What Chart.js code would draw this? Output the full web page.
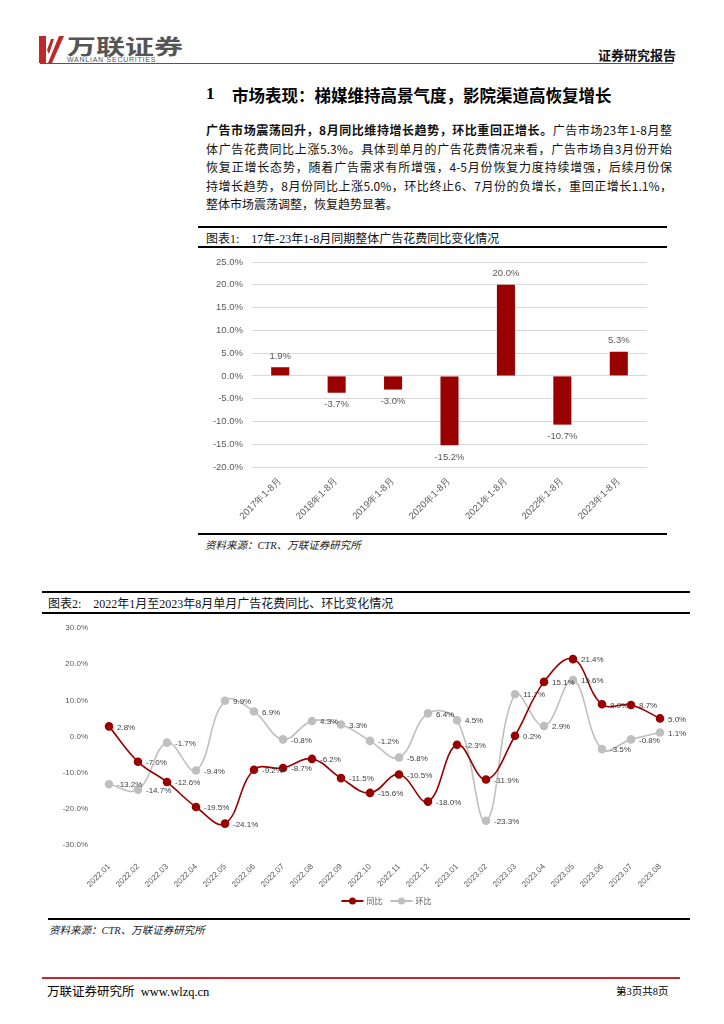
<!DOCTYPE html>
<html><head><meta charset="utf-8">
<script src="https://cdn.jsdelivr.net/npm/chart.js@4.4.0/dist/chart.umd.min.js"></script>
<style>
body{margin:0;width:724px;height:1024px;background:#fff;position:relative;overflow:hidden;font-family:"Noto Sans CJK SC","Noto Sans",sans-serif;color:#000}
.a{position:absolute;white-space:nowrap}
.rule{position:absolute;background:#000}
.para{position:absolute;left:206px;width:466px;font-size:12px;line-height:18.5px;color:#111}
.para div{text-align:justify;text-align-last:justify;height:18.5px;white-space:nowrap;overflow:visible}
.para div.last{text-align-last:left}
.cap{font-family:"Liberation Serif","Noto Sans CJK SC",serif;font-size:12px;color:#111}
.src{font-family:"Liberation Serif","Noto Sans CJK SC",serif;font-style:italic;font-size:10.5px;color:#222}
canvas{position:absolute}
</style></head>
<body>
<!-- header -->
<svg class="a" style="left:39px;top:36px" width="26" height="27" viewBox="0 0 26 27">
  <polygon points="0,0 7,0 7,27 0,27" fill="#c0282d"/>
  <polygon points="9,27 13,27 25,0 20,0" fill="#c0282d"/>
  <polygon points="8,14 12,3 15,3 10,18" fill="#c0282d"/>
</svg>
<div class="a" style="left:67px;top:35px;font-size:21px;line-height:21px;font-weight:700;color:#555;transform:scaleX(1.38);transform-origin:0 0">万联证券</div>
<div class="a" style="left:67px;top:56px;font-size:7px;line-height:7px;color:#555;letter-spacing:0.75px;font-family:'Liberation Sans',sans-serif">WANLIAN SECURITIES</div>
<div class="a" style="left:598px;top:45px;font-size:13px;font-weight:700;color:#111">证券研究报告</div>
<div class="rule" style="left:40px;top:63px;width:633px;height:1px;background:#c0282d"></div>

<!-- section title -->
<div class="a" style="left:206px;top:84px;font-size:17px;font-weight:700;font-family:'Liberation Serif',serif">1</div>
<div class="a" style="left:232px;top:83px;font-size:16.5px;font-weight:700">市场表现：梯媒维持高景气度，影院渠道高恢复增长</div>

<!-- paragraph -->
<div class="para" style="top:121px">
  <div><b>广告市场震荡回升，8月同比维持增长趋势，环比重回正增长。</b>广告市场23年1-8月整</div>
  <div>体广告花费同比上涨5.3%。具体到单月的广告花费情况来看，广告市场自3月份开始</div>
  <div>恢复正增长态势，随着广告需求有所增强，4-5月份恢复力度持续增强，后续月份保</div>
  <div>持增长趋势，8月份同比上涨5.0%，环比终止6、7月份的负增长，重回正增长1.1%，</div>
  <div class="last">整体市场震荡调整，恢复趋势显著。</div>
</div>

<!-- chart 1 caption -->
<div class="rule" style="left:198px;top:226px;width:469px;height:2px"></div>
<div class="a cap" style="left:206px;top:229px">图表1:&nbsp;&nbsp;&nbsp;&nbsp;17年-23年1-8月同期整体广告花费同比变化情况</div>
<div class="rule" style="left:198px;top:246px;width:469px;height:2px"></div>
<canvas id="c1" width="470" height="280" style="left:198px;top:250px"></canvas>
<div class="rule" style="left:198px;top:533px;width:469px;height:2px"></div>
<div class="a src" style="left:205px;top:537px">资料来源：CTR、万联证券研究所</div>

<!-- chart 2 caption -->
<div class="rule" style="left:42px;top:591px;width:648px;height:2px"></div>
<div class="a cap" style="left:48px;top:594px">图表2:&nbsp;&nbsp;&nbsp;&nbsp;2022年1月至2023年8月单月广告花费同比、环比变化情况</div>
<div class="rule" style="left:42px;top:612px;width:648px;height:2px"></div>
<canvas id="c2" width="658" height="292" style="left:42px;top:620px"></canvas>
<div class="rule" style="left:48px;top:918px;width:642px;height:2px"></div>
<div class="a src" style="left:49px;top:922px">资料来源：CTR、万联证券研究所</div>

<!-- footer -->
<div class="rule" style="left:42px;top:977px;width:638px;height:2px;background:#c0282d"></div>
<div class="a" style="left:47px;top:981px;font-size:12.5px;font-family:'Liberation Serif','Noto Sans CJK SC',serif">万联证券研究所&nbsp;&nbsp;www.wlzq.cn</div>
<div class="a" style="left:616px;top:983px;font-size:10.5px;font-family:'Liberation Serif','Noto Sans CJK SC',serif">第3页共8页</div>

<script>
// ---- Chart 1 data ----
const barCategories = ['2017年1-8月','2018年1-8月','2019年1-8月','2020年1-8月','2021年1-8月','2022年1-8月','2023年1-8月'];
const barValues = [1.9, -3.7, -3.0, -15.2, 20.0, -10.7, 5.3];
const barYTicks = [-20, -15, -10, -5, 0, 5, 10, 15, 20, 25];

// ---- Chart 2 data ----
const months = ['2022.01','2022.02','2022.03','2022.04','2022.05','2022.06','2022.07','2022.08','2022.09','2022.10','2022.11','2022.12',
                '2023.01','2023.02','2023.03','2023.04','2023.05','2023.06','2023.07','2023.08'];
const yoyValues = [2.8, -7.0, -12.6, -19.5, -24.1, -9.2, -8.7, -6.2, -11.5, -15.6, -10.5, -18.0, -2.3, -11.9, 0.2, 15.1, 21.4, 8.9, 8.7, 5.0];
const momValues = [-13.2, -14.7, -1.7, -9.4, 9.9, 6.9, -0.8, 4.3, 3.3, -1.2, -5.8, 6.4, 4.5, -23.3, 11.7, 2.9, 15.6, -3.5, -0.8, 1.1];
const lineYTicks = [-30, -20, -10, 0, 10, 20, 30];
const seriesNames = ['同比', '环比'];

const RED = '#990000', GRAY = '#bfbfbf';
const FONT = "'Liberation Sans', Arial, sans-serif";
const pct = v => v.toFixed(1) + '%';

// bar value labels
const barLabels = {
  id: 'barLabels',
  afterDatasetsDraw(chart) {
    const ctx = chart.ctx;
    const meta = chart.getDatasetMeta(0);
    ctx.save();
    ctx.font = "9.5px " + FONT;
    ctx.fillStyle = '#595959';
    ctx.textAlign = 'center';
    ctx.textBaseline = 'middle';
    meta.data.forEach((bar, i) => {
      const v = barValues[i];
      const y = v >= 0 ? bar.y - 11 : bar.y + 12;
      ctx.fillText(pct(v), bar.x, y);
    });
    ctx.restore();
  }
};

new Chart(document.getElementById('c1'), {
  type: 'bar',
  data: { labels: barCategories, datasets: [{ data: barValues, backgroundColor: RED, categoryPercentage: 1, barPercentage: 0.32 }] },
  options: {
    responsive: false, animation: false, devicePixelRatio: 1,
    layout: { padding: { top: 12, right: 21, left: 0, bottom: 0 } },
    plugins: { legend: { display: false }, tooltip: { enabled: false } },
    scales: {
      x: {
        grid: { display: false, drawTicks: false }, border: { display: false },
        ticks: { font: { family: FONT, size: 9.5 }, color: '#595959', maxRotation: 45, minRotation: 45, padding: 8, autoSkip: false },
        afterFit(s) { s.height = 63; s.paddingLeft = 0; s.paddingRight = 0; }
      },
      y: {
        min: -20, max: 25,
        afterBuildTicks(s) { s.ticks = barYTicks.map(v => ({ value: v })); },
        grid: { color: '#d9d9d9', lineWidth: 1, drawTicks: false }, border: { display: false },
        ticks: { font: { family: FONT, size: 9.5 }, color: '#595959', padding: 9, callback: v => pct(v) },
        afterFit(s) { s.width = 54; s.paddingTop = 0; s.paddingBottom = 0; }
      }
    }
  },
  plugins: [barLabels]
});

// line value labels
const lineLabels = {
  id: 'lineLabels',
  afterDatasetsDraw(chart) {
    const ctx = chart.ctx;
    ctx.save();
    ctx.font = "8px " + FONT;
    ctx.fillStyle = '#404040';
    ctx.textAlign = 'left';
    ctx.textBaseline = 'middle';
    [yoyValues, momValues].forEach((vals, d) => {
      chart.getDatasetMeta(d).data.forEach((pt, i) => {
        ctx.fillText(pct(vals[i]), pt.x + 8, pt.y + 1);
      });
    });
    ctx.restore();
  }
};

// custom legend (line + dot marker)
const lineLegend = {
  id: 'lineLegend',
  afterDraw(chart) {
    const ctx = chart.ctx;
    const cy = 281;
    const colors = [RED, GRAY];
    ctx.save();
    ctx.font = "8px 'Noto Sans CJK SC', sans-serif";
    ctx.textBaseline = 'middle';
    ctx.textAlign = 'left';
    const itemW = seriesNames.map(n => 22 + 3 + ctx.measureText(n).width);
    const gap = 8;
    const total = itemW[0] + itemW[1] + gap;
    let x = (chart.chartArea.left + chart.chartArea.right) / 2 - total / 2 + 2;
    seriesNames.forEach((name, i) => {
      ctx.strokeStyle = colors[i]; ctx.lineWidth = 2;
      ctx.beginPath(); ctx.moveTo(x, cy); ctx.lineTo(x + 22, cy); ctx.stroke();
      ctx.fillStyle = colors[i];
      ctx.beginPath(); ctx.arc(x + 11, cy, 3.5, 0, Math.PI * 2); ctx.fill();
      ctx.fillStyle = '#595959';
      ctx.fillText(name, x + 25, cy);
      x += itemW[i] + gap;
    });
    ctx.restore();
  }
};

new Chart(document.getElementById('c2'), {
  type: 'line',
  data: {
    labels: months,
    datasets: [
      { label: seriesNames[0], data: yoyValues, borderColor: RED, backgroundColor: RED, pointBackgroundColor: RED, pointBorderColor: RED, borderWidth: 1.6, pointRadius: 3.5, tension: 0.4 },
      { label: seriesNames[1], data: momValues, borderColor: GRAY, backgroundColor: GRAY, pointBackgroundColor: GRAY, pointBorderColor: GRAY, borderWidth: 1.6, pointRadius: 3.5, tension: 0.4 }
    ]
  },
  options: {
    responsive: false, animation: false, devicePixelRatio: 1,
    layout: { padding: { top: 8, right: 40, left: 0, bottom: 13 } },
    plugins: { tooltip: { enabled: false }, legend: { display: false } },
    scales: {
      x: {
        offset: false,
        grid: { display: false, drawTicks: false }, border: { display: false },
        ticks: { font: { family: FONT, size: 8 }, color: '#595959', maxRotation: 45, minRotation: 45, padding: 17, autoSkip: false },
        afterFit(s) { s.height = 54; s.paddingLeft = 0; s.paddingRight = 0; }
      },
      y: {
        min: -30, max: 30,
        afterBuildTicks(s) { s.ticks = lineYTicks.map(v => ({ value: v })); },
        grid: { display: false, drawTicks: false }, border: { display: false },
        ticks: { font: { family: FONT, size: 8 }, color: '#595959', padding: 21, callback: v => pct(v) },
        afterFit(s) { s.width = 67; s.paddingTop = 0; s.paddingBottom = 0; }
      }
    }
  },
  plugins: [lineLabels, lineLegend]
});
</script>
</body></html>
